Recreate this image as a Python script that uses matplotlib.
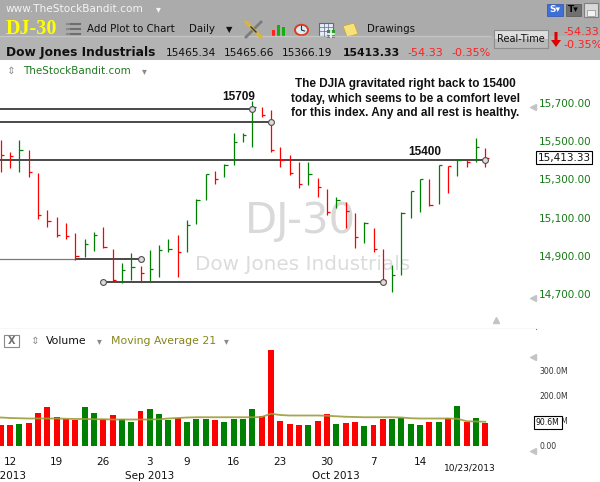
import matplotlib
matplotlib.use("Agg")
import matplotlib.pyplot as plt
from matplotlib.patches import Rectangle, Polygon, Circle
from matplotlib.lines import Line2D

# ---- data (DJ-30 daily, 2013-08-09 .. 2013-10-23) ----
highs = [15505, 15444, 15505, 15453, 15331, 15140, 15105, 15070, 15018, 14987,
         15023, 15053, 14935, 14865, 14914, 14848, 14931, 14957, 14987, 15010,
         15088, 15196, 15329, 15343, 15378, 15543, 15540, 15709, 15679, 15662,
         15467, 15427, 15392, 15392, 15305, 15248, 15206, 15183, 15123, 15079,
         15044, 14935, 14853, 15127, 15238, 15303, 15300, 15375, 15372, 15406,
         15406, 15517, 15465.66]
lows = [15340, 15357, 15340, 15314, 15091, 15050, 15001, 14987, 14879, 14896,
        14928, 14940, 14762, 14757, 14775, 14762, 14769, 14792, 14919, 14789,
        14923, 15067, 15192, 15274, 15314, 15375, 15496, 15467, 15627, 15444,
        15366, 15323, 15253, 15270, 15209, 15114, 15149, 15044, 14940, 14966,
        14922, 14775, 14714, 14801, 15097, 15131, 15161, 15170, 15227, 15319,
        15363, 15392, 15366.19]
closes = [15425.51, 15419.68, 15451.01, 15337.66, 15112.19, 15081.47, 15010.51,
          15002.99, 14897.55, 14963.74, 15010.74, 14946.46, 14776.13, 14824.51,
          14840.95, 14810.31, 14833.96, 14930.87, 14937.48, 14922.50, 15063.12,
          15191.06, 15326.60, 15300.64, 15376.06, 15494.78, 15529.73, 15676.94,
          15636.55, 15451.09, 15401.38, 15334.59, 15273.26, 15328.30, 15258.24,
          15129.67, 15191.70, 15133.14, 14996.48, 15072.58, 14936.24, 14776.53,
          14802.98, 15126.07, 15237.11, 15301.26, 15168.01, 15373.83, 15371.65,
          15399.65, 15392.20, 15467.66, 15413.33]
prev_close = 15498.32
volumes = [83, 83, 87, 91, 131, 155, 115, 107, 103, 155, 131, 107, 123, 107, 95,
           139, 147, 127, 103, 111, 95, 107, 107, 103, 95, 107, 107, 147, 119, 383,
           99, 87, 83, 83, 99, 127, 87, 91, 95, 79, 83, 107, 107, 111, 87, 83, 95,
           95, 111, 159, 95, 111, 90.6]
vol_ma21 = [112, 110, 109, 108, 108, 108, 108, 107, 106, 106, 105, 105, 104, 104,
            104, 104, 104, 105, 108, 110, 112, 113, 113, 113, 113, 113, 113, 113,
            114, 127, 122, 120, 120, 120, 120, 119, 117, 115, 114, 113, 113, 113,
            113, 112, 109, 108, 108, 108, 108, 107, 97, 96, 95]

day_tick_idx = [1, 6, 11, 16, 20, 25, 30, 35, 40, 45]
day_tick_labels = ['12', '19', '26', '3', '9', '16', '23', '30', '7', '14']
month_idx = [0, 16, 36]
month_labels = ['Aug 2013', 'Sep 2013', 'Oct 2013']
price_ticks = [14700, 14900, 15100, 15300, 15500, 15700]
vol_ticks = [0, 100, 200, 300]
vol_tick_labels = ['0.00', '100.0M', '200.0M', '300.0M']

# drawn support / resistance lines: level, start bar, end bar
line_levels = [15665, 15600, 15400, 14884, 14763]
line_start = [-1, -1, -1, 8, 11]
line_end = [27, 29, 52, 15, 41]

note_lines = ['The DJIA gravitated right back to 15400',
              'today, which seems to be a comfort level',
              'for this index. Any and all rest is healthy.']

W, H = 600, 482
RED, GREEN = '#ff0000', '#008000'
plt.rcParams['font.family'] = ['DejaVu Sans']

fig = plt.figure(figsize=(W / 100, H / 100), dpi=100)


def fxy(x, y):
    return x / W, 1 - y / H


def ftext(x, y, s, **kw):
    kw.setdefault('va', 'center')
    fig.text(x / W, 1 - y / H, s, **kw)


def frect(x, y, w, h, **kw):
    fig.add_artist(Rectangle(fxy(x, y + h), w / W, h / H,
                             transform=fig.transFigure, **kw))


def fpoly(pts, **kw):
    fig.add_artist(Polygon([fxy(x, y) for x, y in pts], closed=True,
                           transform=fig.transFigure, **kw))


def fline(xs, ys, **kw):
    fig.add_artist(Line2D([x / W for x in xs], [1 - y / H for y in ys],
                          transform=fig.transFigure, **kw))


# ---- header ----
frect(0, 0, 600, 36, fc='#ababab', ec='none')
frect(0, 36, 600, 24, fc='#b3b3b3', ec='none')
fline([0, 490], [36, 36], color='#c4c4c4', lw=1)

ftext(6, 9.5, 'www.TheStockBandit.com', color='#f4f4f4', fontsize=7.6)
ftext(158, 9.5, '\u25be', color='#f4f4f4', fontsize=7, ha='center')
frect(547, 4, 16, 12, fc='#3d6fd6', ec='#2c55b0', lw=0.5)
ftext(555, 10, 'S\u25be', color='white', fontsize=6.5, weight='bold', ha='center')
frect(566, 4, 15, 12, fc='#707070', ec='#555', lw=0.5)
ftext(573.5, 10, 'T\u25be', color='black', fontsize=6.5, weight='bold', ha='center')
frect(584, 3, 14, 14, fc='#d8d8d8', ec='#808080', lw=0.8)
frect(587, 10, 8, 6, fc='#f2f2f2', ec='#909090', lw=0.5)

ftext(6, 29.5, 'DJ-30', color='#ffff00', fontsize=14.5, weight='bold',
      family='Liberation Serif')
for yy in (24, 29, 34):
    fline([67, 69], [yy, yy], color='#8a8a8a', lw=1.5)
    fline([71, 80], [yy, yy], color='#6e6e6e', lw=1.5)
ftext(87, 29.5, 'Add Plot to Chart', color='#111', fontsize=7.4)
ftext(189, 29.5, 'Daily', color='#111', fontsize=7.4)
ftext(229, 30, '\u25bc', color='#111', fontsize=6, ha='center')
fline([246, 261], [37, 22], color='#7c7c7c', lw=2)
fline([246, 261], [22, 37], color='#e0b820', lw=2)
fline([251, 256], [27, 32], color='#333', lw=1)
frect(271.5, 30, 3.5, 6, fc='#ff2020', ec='none')
frect(276.5, 25, 3.5, 11, fc='#10b010', ec='none')
frect(281.5, 27, 3.5, 9, fc='#10b010', ec='none')
fig.add_artist(Circle(fxy(301.5, 30), 6.5 / W, transform=fig.transFigure,
                      fc='#d6eef8', ec='#e03a20', lw=1.4))
fline([301.5, 301.5, 304.5], [26, 30, 31], color='#333', lw=0.8)
frect(319, 23, 14, 13, fc='#e8eef6', ec='#5a6a8a', lw=0.8)
for yy in (27, 31):
    fline([319, 333], [yy, yy], color='#5a6a8a', lw=0.5)
for xx in (323.7, 328.3):
    fline([xx, xx], [23, 36], color='#5a6a8a', lw=0.5)
frect(327, 30, 8, 8, fc='#2aa02a', ec='none')
fline([331, 331], [31, 37], color='white', lw=1.2)
fline([328, 334], [34, 34], color='white', lw=1.2)
fpoly([(343, 26), (354, 23), (358, 34), (347, 37)], fc='#f6e27a', ec='#c8a838', lw=0.6)
ftext(367, 29.5, 'Drawings', color='#111', fontsize=7.4)

frect(494, 30, 54, 9, fc='#dedede', ec='none')
frect(494, 39, 54, 9, fc='#b9b9b9', ec='none')
frect(494, 30, 54, 18, fc='none', ec='#8c8c8c', lw=0.8)
ftext(521, 39, 'Real-Time', color='#111', fontsize=7, ha='center')
fpoly([(554.5, 32), (557.5, 32), (557.5, 40), (561, 40), (556, 47),
       (551, 40), (554.5, 40)], fc='#e00000', ec='none')
ftext(563, 32, '-54.33', color='#ff2020', fontsize=8)
ftext(563, 45.5, '-0.35%', color='#ff2020', fontsize=8)

ftext(6, 52, 'Dow Jones Industrials', color='#111', fontsize=8.8, weight='bold')
ftext(166, 52.5, '15465.34', color='#111', fontsize=7.7)
ftext(224, 52.5, '15465.66', color='#111', fontsize=7.7)
ftext(282, 52.5, '15366.19', color='#111', fontsize=7.7)
ftext(343, 52.5, '15413.33', color='#111', fontsize=7.8, weight='bold')
ftext(407, 52.5, '-54.33', color='#ff2020', fontsize=8)
ftext(451, 52.5, '-0.35%', color='#ff2020', fontsize=8)

# ---- price panel ----
px_per_bar = 9.32
x0 = -0.7 / px_per_bar
x1 = x0 + 536 / px_per_bar
pt_per_px = 1 / 0.1916
p_top = 15700 + (102.7 - 60) * pt_per_px
p_bot = 15700 - (329 - 102.7) * pt_per_px


def px_x(x):
    return (x - 0.7) / px_per_bar


def px_p(y):
    return 15700 - (y - 102.7) * pt_per_px


ax = fig.add_axes([0, 1 - 329 / H, 536 / W, (329 - 60) / H])
ax.set_xlim(x0, x1)
ax.set_ylim(p_bot, p_top)
for s in ('top', 'left', 'right'):
    ax.spines[s].set_visible(False)
ax.spines['bottom'].set_color('#7a7a7a')
ax.spines['bottom'].set_linewidth(0.8)
ax.set_xticks([])
ax.yaxis.tick_right()
ax.set_yticks(price_ticks)
ax.set_yticklabels([f'{v:,.2f}' for v in price_ticks])
ax.tick_params(axis='y', length=0, pad=2.3, labelsize=7.5, labelcolor='#157a15')

idx = list(range(len(closes)))
prev = [prev_close] + closes[:-1]
bar_colors = [GREEN if c > p else RED for c, p in zip(closes, prev)]

ax.text(px_x(300), px_p(221), 'DJ-30', color='#d9d9d9', fontsize=30,
        ha='center', va='center', zorder=0)
ax.text(px_x(302.5), px_p(264), 'Dow Jones Industrials', color='#dcdcdc',
        fontsize=14.4, ha='center', va='center', zorder=0)

for lvl, a, b in zip(line_levels, line_start, line_end):
    ax.plot([a, b], [lvl, lvl], color='#3a3a3a', lw=1.3, zorder=2,
            solid_capstyle='butt')
ax.plot([-1, 8], [line_levels[3]] * 2, color='#7a7a7a', lw=0.9, zorder=2)
ax.plot(line_end, line_levels, 'o', ms=4.2, mfc='#dcdcdc', mec='#505050',
        mew=0.8, zorder=4)
ax.plot([line_start[4]], [line_levels[4]], 'o', ms=4.2, mfc='#dcdcdc',
        mec='#505050', mew=0.8, zorder=4)

ax.vlines(idx, lows, highs, colors=bar_colors, lw=0.9, zorder=3)
ax.hlines(closes, idx, [i + 0.36 for i in idx], colors=bar_colors, lw=0.9, zorder=3)

bold = dict(family='Liberation Sans', weight='bold', color='#111', fontsize=8.5,
            ha='center', va='center')
ax.text(px_x(239), px_p(96.7), '15709', **bold)
ax.text(px_x(425), px_p(152.3), '15400', **bold)
for k, s in enumerate(note_lines):
    ax.text(px_x(405.5), px_p(84 + 14.7 * k), s, **bold)

ax.text(1.0028, closes[-1], f'{closes[-1]:,.2f}', transform=ax.get_yaxis_transform(),
        fontsize=7.5, color='#111', ha='left', va='center', clip_on=False,
        bbox=dict(boxstyle='square,pad=0.12', fc='white', ec='black', lw=0.8))

ftext(11, 71, '\u21d5', color='#909090', fontsize=7.5, ha='center')
ftext(23, 71, 'TheStockBandit.com', color='#217a21', fontsize=7.45)
ftext(144.5, 71.5, '\u25be', color='#8a8a8a', fontsize=7, ha='center')

# ---- volume panel ----
vol_zero = 445.5
m_per_px = 4.0
axv = fig.add_axes([0, 1 - 452 / H, 536 / W, (452 - 329) / H])
axv.set_xlim(x0, x1)
axv.set_ylim(-(452 - vol_zero) * m_per_px, (vol_zero - 329) * m_per_px)
for s in axv.spines.values():
    s.set_visible(False)
axv.bar(idx, volumes, width=0.64, color=bar_colors, zorder=2)
axv.plot(idx, vol_ma21, color='#9c9c38', lw=1.3, alpha=0.9, zorder=3)
axv.yaxis.tick_right()
axv.set_yticks(vol_ticks)
axv.set_yticklabels(vol_tick_labels)
axv.tick_params(axis='y', length=0, pad=2.3, labelsize=5.6, labelcolor='#333')
axv.set_xticks(day_tick_idx)
axv.set_xticklabels(day_tick_labels)
axv.tick_params(axis='x', length=0, pad=3.6, labelsize=7.5, labelcolor='#111')
for i, s in zip(month_idx, month_labels):
    axv.text(i, -0.195, s, transform=axv.get_xaxis_transform(), fontsize=7.5,
             color='#111', ha='center', va='center', clip_on=False)
axv.text(53.13, -0.13, '10/23/2013', transform=axv.get_xaxis_transform(),
         fontsize=6.5, color='#111', ha='right', va='center', clip_on=False)
axv.text(1.0, volumes[-1], f'{volumes[-1]:.1f}M', transform=axv.get_yaxis_transform(),
         fontsize=5.6, color='#111', ha='left', va='center', clip_on=False, zorder=5,
         bbox=dict(boxstyle='square,pad=0.25', fc='white', ec='black', lw=0.8))

frect(4, 335, 15, 12, fc='white', ec='#8a8a8a', lw=0.8)
ftext(11.5, 341, 'X', color='#707070', fontsize=7, weight='bold', ha='center')
ftext(35, 341, '\u21d5', color='#909090', fontsize=7.5, ha='center')
ftext(46, 341, 'Volume', color='#111', fontsize=7.8)
ftext(99.5, 341.5, '\u25be', color='#8a8a8a', fontsize=7, ha='center')
ftext(111, 341, 'Moving Average 21', color='#85851a', fontsize=7.8)
ftext(226, 341.5, '\u25be', color='#8a8a8a', fontsize=7, ha='center')

# scroll handles
for yy in (106.5, 297.5, 356.7, 451):
    fig.add_artist(Line2D([533 / W], [1 - yy / H], marker='<', ms=5, color='#c4c4c4',
                          transform=fig.transFigure))
fig.add_artist(Line2D([496 / W], [1 - 320 / H], marker='^', ms=5, color='#c4c4c4',
                      transform=fig.transFigure))

fig.savefig('out.png', dpi=100)
